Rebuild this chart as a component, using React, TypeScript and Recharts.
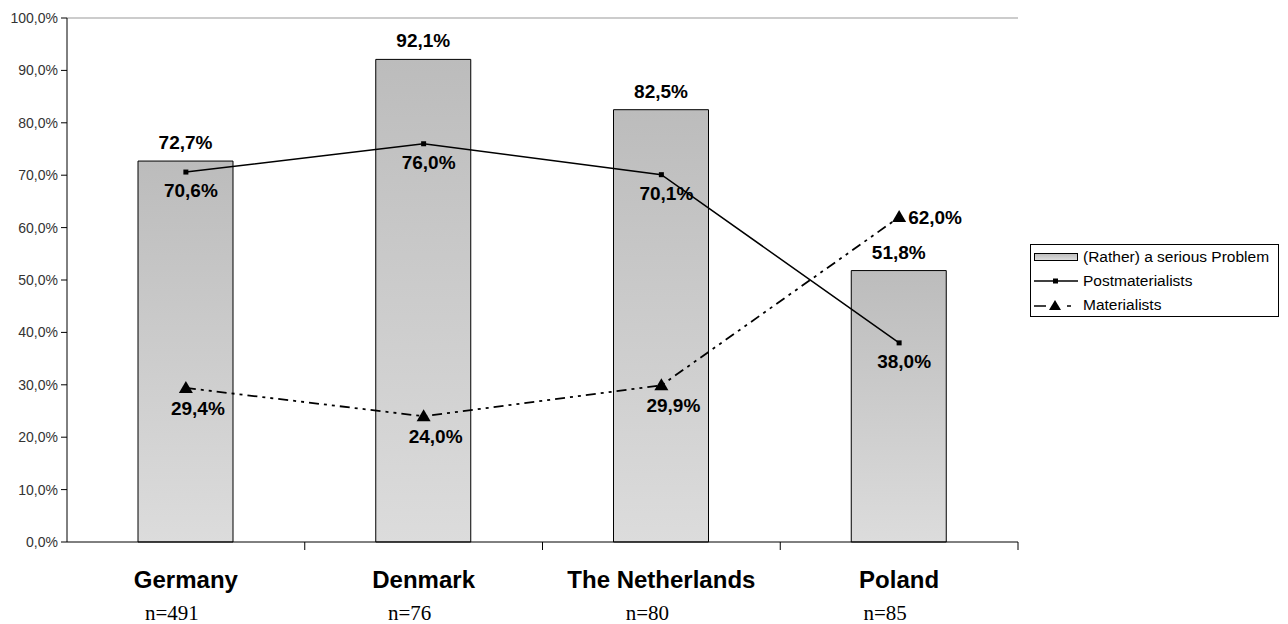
import {
  ComposedChart,
  Bar,
  Line,
  XAxis,
  YAxis,
  ReferenceLine,
  LabelList,
} from "recharts";

const countries = ["Germany", "Denmark", "The Netherlands", "Poland"];
const sampleSizes = ["n=491", "n=76", "n=80", "n=85"];
const seriousProblem = [72.7, 92.1, 82.5, 51.8];
const postmaterialists = [70.6, 76.0, 70.1, 38.0];
const materialists = [29.4, 24.0, 29.9, 62.0];
const yTicks = [0, 10, 20, 30, 40, 50, 60, 70, 80, 90, 100];

const data = countries.map((name, i) => ({
  name,
  n: sampleSizes[i],
  problem: seriousProblem[i],
  post: postmaterialists[i],
  mat: materialists[i],
}));

const FONT = "'Liberation Sans', Arial, sans-serif";
const pct = (v: number) => v.toFixed(1).replace(".", ",") + "%";

// category names + sample size, with boundary tick marks between categories
const CategoryTick = (props: any) => {
  const { x, y, payload, index } = props;
  const half = 951 / countries.length / 2;
  return (
    <g>
      <line x1={x + half} y1={y - 8} x2={x + half} y2={y} stroke="#000" />
      <text
        x={x}
        y={y + 38}
        textAnchor="middle"
        fontFamily={FONT}
        fontWeight="bold"
        fontSize={24}
        fill="#000"
      >
        {payload.value}
      </text>
      <text
        x={x - 14}
        y={y + 70}
        textAnchor="middle"
        fontFamily="'Liberation Serif', 'Times New Roman', serif"
        fontSize={21}
        fill="#000"
      >
        {data[index]?.n}
      </text>
    </g>
  );
};

const BarLabel = (props: any) => {
  const { x, y, width, value } = props;
  return (
    <text
      x={x + width / 2}
      y={y - 12}
      textAnchor="middle"
      fontFamily={FONT}
      fontWeight="bold"
      fontSize={19}
      fill="#000"
    >
      {pct(value)}
    </text>
  );
};

const PostLabel = (props: any) => {
  const { x, y, value } = props;
  return (
    <text
      x={x + 5}
      y={y + 25}
      textAnchor="middle"
      fontFamily={FONT}
      fontWeight="bold"
      fontSize={19}
      fill="#000"
    >
      {pct(value)}
    </text>
  );
};

const MatLabel = (props: any) => {
  const { x, y, value, index } = props;
  const last = index === countries.length - 1;
  return (
    <text
      x={last ? x + 9 : x + 12}
      y={last ? y + 7 : y + 27}
      textAnchor={last ? "start" : "middle"}
      fontFamily={FONT}
      fontWeight="bold"
      fontSize={19}
      fill="#000"
    >
      {pct(value)}
    </text>
  );
};

const Triangle = (props: any) => {
  const { cx, cy } = props;
  if (cx == null || cy == null) return null;
  return (
    <path d={`M${cx},${cy - 7} L${cx + 7},${cy + 5} L${cx - 7},${cy + 5} Z`} fill="#000" />
  );
};

const Square = (props: any) => {
  const { cx, cy } = props;
  if (cx == null || cy == null) return null;
  return <rect x={cx - 2.5} y={cy - 2.5} width={5} height={5} fill="#000" />;
};

const LegendBox = () => (
  <div
    style={{
      position: "absolute",
      left: 1030,
      top: 244,
      boxSizing: "border-box",
      border: "1px solid #000",
      background: "#fff",
      fontFamily: FONT,
      fontSize: 15.5,
      color: "#000",
      padding: "0px 3px",
      lineHeight: "24px",
      width: 249,
      height: 73,
      whiteSpace: "nowrap",
    }}
  >
    <div style={{ display: "flex", alignItems: "center" }}>
      <div
        style={{
          width: 42,
          height: 6,
          border: "1px solid #000",
          background: "linear-gradient(#bdbdbd, #dedede)",
          marginRight: 5,
        }}
      />
      (Rather) a serious Problem
    </div>
    <div style={{ display: "flex", alignItems: "center" }}>
      <svg width={46} height={10} style={{ marginRight: 3 }}>
        <line x1={0} y1={5} x2={44} y2={5} stroke="#000" strokeWidth={1.5} />
        <rect x={19} y={2.5} width={5} height={5} fill="#000" />
      </svg>
      Postmaterialists
    </div>
    <div style={{ display: "flex", alignItems: "center" }}>
      <svg width={49} height={12} style={{ marginRight: 0 }}>
        <line x1={0} y1={7} x2={12} y2={7} stroke="#000" strokeWidth={1.5} />
        <path d="M21,1 L27,11 L15,11 Z" fill="#000" />
        <line x1={33} y1={7} x2={37} y2={7} stroke="#000" strokeWidth={1.5} />
      </svg>
      Materialists
    </div>
  </div>
);

export default function App() {
  return (
    <div
      style={{
        position: "absolute",
        left: 0,
        top: 0,
        width: 1288,
        height: 624,
        background: "#fff",
      }}
    >
      <ComposedChart
        width={1288}
        height={624}
        data={data}
        margin={{ top: 18, right: 270, bottom: 0, left: 0 }}
        barCategoryGap="30%"
      >
        <defs>
          <linearGradient id="barFill" x1="0" y1="0" x2="0" y2="1">
            <stop offset="0%" stopColor="#bcbcbc" />
            <stop offset="100%" stopColor="#dcdcdc" />
          </linearGradient>
        </defs>
        <XAxis
          dataKey="name"
          height={82}
          axisLine={{ stroke: "#000" }}
          tickLine={false}
          interval={0}
          tick={<CategoryTick />}
        />
        <YAxis
          width={67}
          domain={[0, 100]}
          ticks={yTicks}
          interval={0}
          tickFormatter={(v: number) => pct(v)}
          axisLine={{ stroke: "#000" }}
          tickLine={{ stroke: "#000" }}
          tickSize={6}
          tickMargin={3}
          tick={{ fontSize: 14, fontFamily: FONT, fill: "#333" }}
        />
        <ReferenceLine y={100} stroke="#999" />
        <Bar
          dataKey="problem"
          name="(Rather) a serious Problem"
          fill="url(#barFill)"
          stroke="#000"
          strokeWidth={1}
          barSize={95}
          isAnimationActive={false}
        >
          <LabelList dataKey="problem" content={<BarLabel />} />
        </Bar>
        <Line
          dataKey="post"
          name="Postmaterialists"
          type="linear"
          stroke="#000"
          strokeWidth={1.5}
          dot={<Square />}
          activeDot={false}
          isAnimationActive={false}
        >
          <LabelList dataKey="post" content={<PostLabel />} />
        </Line>
        <Line
          dataKey="mat"
          name="Materialists"
          type="linear"
          stroke="#000"
          strokeWidth={1.8}
          strokeDasharray="10 5 3 5 3 5"
          dot={<Triangle />}
          activeDot={false}
          isAnimationActive={false}
        >
          <LabelList dataKey="mat" content={<MatLabel />} />
        </Line>
      </ComposedChart>
      <LegendBox />
    </div>
  );
}
